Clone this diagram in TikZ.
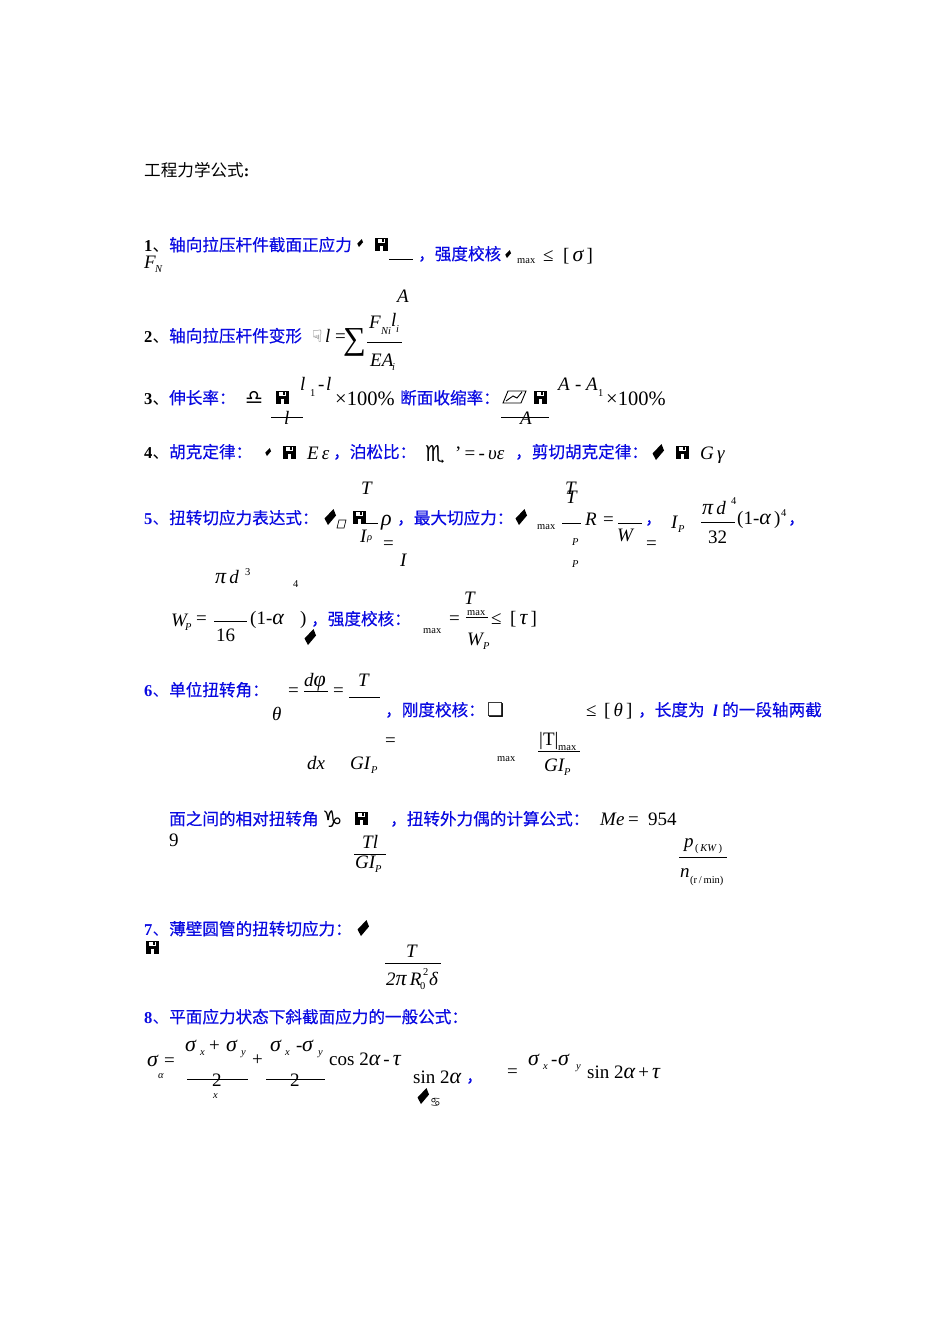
\documentclass[tikz,border=0pt]{standalone}
\usepackage{fontspec}
\setmainfont{Liberation Serif}
\newfontfamily\cjk{Noto Sans CJK SC}
\newfontfamily\cjkb[FakeBold=0.5]{Noto Sans CJK SC}
\newfontfamily\symf{DejaVu Sans}
\usetikzlibrary{positioning}
\definecolor{headblue}{RGB}{10,10,225}
\newcommand{\fs}[1]{\fontsize{#1}{#1}\selectfont}
\newcommand{\gk}[1]{{\fs{22}\itshape #1}}
\tikzset{
    every node/.style={inner sep=0pt,anchor=base west},
    head/.style={font=\fs{16.6}\cjkb,text=headblue},
    plainhead/.style={font=\fs{16.6}\cjk,text=black},
    num/.style={font=\fs{16.6}\bfseries,text=black},
    bnum/.style={font=\fs{16.6}\bfseries,text=headblue},
    rom/.style={font=\fs{19}},
    wide/.style={font=\fs{20.5}},
    ital/.style={font=\fs{19}\itshape},
    low/.style={font=\fs{10.5}},
    lowit/.style={font=\fs{10.5}\itshape},
    glyph/.style={font=\fs{17}\symf},
    fracline/.style={line width=0.8pt},
    floppy/.pic={
        \fill (-6.5,-6.5) rectangle (6.5,6.5);
        \fill[white] (-3.5,-5) rectangle (3.5,-1.5);
        \fill (1,-5) rectangle (2.5,-2);
        \fill[white] (-1,1.5) rectangle (1.5,6.5);
    },
    lozenge/.pic={
        \fill (-5.5,1.5) -- (3.5,-8) -- (6,-1.5) -- (-2,8) -- cycle;
    },
}
\begin{document}
\begin{tikzpicture}[x=1pt,y=-1pt]
    \useasboundingbox (0,0) rectangle (950,1344);

    \foreach \px/\py in {381/244,282/397,540/397,289/452,682/452,359/517,361/818,152/947}
        \pic at (\px,\py) {floppy};
    \foreach \px/\py/\ps in {360/243/.5,508/254/.5,268/452/.5,658/452/1,330/517/1,521/517/1,
                             310/637/1,363/928/1,423/1096/1}
        \pic[scale=\ps] at (\px,\py) {lozenge};
    \foreach \xa/\xb/\yy in {389/413/259,367/402/342,271/303/417,501/549/417,366/378/523,562/581/523,
                             618/642/523,701/735/522,214/247/621,466/488/617,304/328/691,349/380/697,
                             538/580/751,354/386/854,679/727/857,385/441/963,187/248/1079,266/325/1079}
        \draw[fracline] (\xa,\yy) -- (\xb,\yy);

    % title
    \node (title) [plainhead] at (144,176) {工程力学公式\textbf{\rmfamily:}};

    % 1
    \node (n1)  [num]   at (144,251) {1\cjk\mdseries 、};
    \node (h1)  [head]  at (169,251) {轴向拉压杆件截面正应力};
    \node (fn)  [ital]  at (144,268) {F};
    \node (fns) [lowit] at (155,272) {N};
    \node (h1b) [head]  at (418,260) {，强度校核};
    \node (mx1) [low]   at (517,263) {max};
    \node (le1) [rom]   at (543,261) {≤};
    \node (br1) [rom]   at (563,261) {[\,\gk{σ}\,]};
    \node (a1)  [ital]  at (397,302) {A};

    % 2
    \node (n2)  [num]   at (144,342) {2\cjk\mdseries 、};
    \node (h2)  [head]  at (169,342) {轴向拉压杆件变形};
    \node (dl)  [glyph,text=black!70] at (312,342) {☟};
    \node (l2)  [ital]  at (325,342) {l};
    \node (eq2) [rom]   at (335,342) {=};
    \node (sum) [rom,font=\fs{32}] at (343,349) {∑};
    \node (f2)  [ital]  at (369,328) {F};
    \node (f2s) [lowit] at (381,334) {Ni};
    \node (l2n) [ital]  at (391,326) {l};
    \node (l2s) [lowit] at (396,332) {i};
    \node (ea)  [ital]  at (370,366) {EA};
    \node (eas) [lowit] at (392,370) {i};

    % 3
    \node (n3)  [num]   at (144,404) {3\cjk\mdseries 、};
    \node (h3)  [head]  at (169,404) {伸长率：};
    \node (lib) [glyph,font=\fs{20}\symf] at (245,404) {♎};
    \node (l3a) [ital]  at (300,390) {l};
    \node (l31) [low]   at (310,396) {1};
    \node (l3m) [rom]   at (318,390) {-};
    \node (l3b) [ital]  at (326,390) {l};
    \node (l3c) [ital]  at (284,424) {l};
    \node (pc3) [wide]  at (335,405) {×100\%};
    \node (h3b) [head]  at (400,404) {断面收缩率：};
    \draw[line width=0.9pt] (508,391) -- (526,391) -- (521,403) -- (503,403) -- cycle
                            (506,401) -- (513,396) -- (517,398) -- (522,392);
    \node (a3a) [ital]  at (558,390) {A};
    \node (a3m) [rom]   at (575,390) {-};
    \node (a3b) [ital]  at (586,390) {A};
    \node (a31) [low]   at (598,396) {1};
    \node (pc3b) [wide] at (606,405) {×100\%};
    \node (a3c) [ital]  at (520,424) {A};

    % 4
    \node (n4)  [num]   at (144,458) {4\cjk\mdseries 、};
    \node (h4)  [head]  at (169,458) {胡克定律：};
    \node (ee)  [ital]  at (307,459) {E\,ε};
    \node (h4b) [head]  at (333,458) {，泊松比：};
    \node (sco) [glyph,font=\fs{22}\symf] at (425,461) {♏};
    \node (pr)  [rom]   at (455,459) {'\,=\,-\,\textit{υε}};
    \node (h4c) [head]  at (515,458) {，剪切胡克定律：};
    \node (gg)  [ital]  at (700,459) {G\,γ};

    % 5
    \node (n5)  [bnum]  at (144,524) {5\cjk\mdseries 、};
    \node (h5)  [head]  at (169,524) {扭转切应力表达式：};
    \draw[line width=0.7pt] (339,520) -- (346,520) -- (344,528) -- (337,528) -- cycle;
    \node (t5)  [ital]  at (361,494) {T};
    \node (i5)  [ital]  at (360,542) {I};
    \node (i5s) [lowit] at (367,540) {ρ};
    \node (eq5) [rom]   at (383,549) {=};
    \node (i5b) [ital]  at (400,566) {I};
    \node (rho) [ital,font=\fs{22}\itshape] at (381,525) {ρ};
    \node (h5b) [head]  at (397,524) {，最大切应力：};
    \node (mx5) [low]   at (537,529) {max};
    \node (t5a) [ital]  at (565,494) {T};
    \node (t5b) [ital]  at (566,503) {T};
    \node (p5a) [lowit] at (572,545) {P};
    \node (p5b) [lowit] at (572,567) {P};
    \node (r5)  [ital]  at (585,525) {R};
    \node (eq5b) [rom]  at (603,525) {=};
    \node (w5)  [ital]  at (617,541) {W};
    \node (cm5) [head]  at (645,524) {，};
    \node (eq5c) [rom]  at (646,549) {=};
    \node (ip)  [ital]  at (671,528) {I};
    \node (ips) [lowit] at (678,532) {P};
    \node (pd)  [ital]  at (702,514) {\gk{π}\,d};
    \node (pd4) [low]   at (731,504) {4};
    \node (n32) [rom]   at (708,543) {32};
    \node (al5) [rom]   at (737,524) {(1-\gk{α}\,)};
    \node (al4) [low]   at (781,516) {4};
    \node (cm5b) [head] at (788,524) {，};

    % Wp
    \node (pd3) [ital]  at (215,583) {\gk{π}\,d};
    \node (pd3s) [low]  at (245,575) {3};
    \node (four) [low]  at (293,587) {4};
    \node (wp)  [ital]  at (171,626) {W};
    \node (wps) [lowit] at (185,630) {P};
    \node (eq6) [rom]   at (196,624) {=};
    \node (n16) [rom]   at (216,641) {16};
    \node (al6) [rom]   at (250,624) {(1-\gk{α}};
    \node (cl6) [rom]   at (300,624) {)};
    \node (h6)  [head]  at (311,625) {，强度校核：};
    \node (mx6) [low]   at (423,633) {max};
    \node (eq6b) [rom]  at (449,624) {=};
    \node (t6)  [ital]  at (464,604) {T};
    \node (mx6b) [low]  at (467,615) {max};
    \node (le6) [rom]   at (491,624) {≤};
    \node (br6) [rom]   at (510,624) {[\,\gk{τ}\,]};
    \node (w6)  [ital]  at (467,645) {W};
    \node (w6s) [lowit] at (483,649) {P};

    % 6
    \node (n7)  [bnum]  at (144,696) {6\cjk\mdseries 、};
    \node (h7)  [head]  at (169,696) {单位扭转角：};
    \node (eq7) [rom]   at (288,696) {=};
    \node (df)  [ital]  at (304,686) {d\gk{φ}};
    \node (eq7b) [rom]  at (333,696) {=};
    \node (t7)  [ital]  at (358,686) {T};
    \node (th)  [ital]  at (272,720) {θ};
    \node (h7b) [head]  at (385,716) {，刚度校核：};
    \node (sq)  [glyph,font=\fs{19}\symf] at (487,716) {❏};
    \node (le7) [rom]   at (586,716) {≤};
    \node (br7) [rom]   at (604,716) {[\,\textit{θ}\,]};
    \node (h7c) [head]  at (638,716) {，长度为};
    \node (l7)  [bnum,font=\fs{16.6}\bfseries\itshape] at (713,716) {l};
    \node (h7d) [head]  at (722,716) {的一段轴两截};
    \node (eq7c) [rom]  at (385,746) {=};
    \node (mx7) [low]   at (497,761) {max};
    \node (dx)  [ital]  at (307,769) {dx};
    \node (gi)  [ital]  at (350,769) {GI};
    \node (gis) [lowit] at (371,773) {P};
    \node (abt) [rom]   at (539,745) {|T|};
    \node (abs) [low]   at (558,750) {max};
    \node (gi2) [ital]  at (544,771) {GI};
    \node (gi2s) [lowit] at (564,775) {P};

    % 6, second line
    \node (h8)  [head]  at (169,825) {面之间的相对扭转角};
    \node (cap) [glyph,font=\fs{23}\symf] at (322,827) {♑};
    \node (h8b) [head]  at (390,825) {，扭转外力偶的计算公式：};
    \node (me)  [ital]  at (600,825) {Me};
    \node (me2) [rom]   at (628,825) {=};
    \node (me3) [rom]   at (648,825) {954};
    \node (nine) [rom]  at (169,846) {9};
    \node (tl)  [ital]  at (362,848) {Tl};
    \node (gi3) [ital]  at (355,868) {GI};
    \node (gi3s) [lowit] at (375,872) {P};
    \node (pk)  [ital]  at (684,847) {p};
    \node (pks) [low]   at (695,851) {(\,\textit{KW}\,)};
    \node (nr)  [ital]  at (680,877) {n};
    \node (nrs) [low]   at (690,883) {(r\,/\,min)};

    % 7
    \node (n9)  [bnum]  at (144,935) {7\cjk\mdseries 、};
    \node (h9)  [head]  at (169,935) {薄壁圆管的扭转切应力：};
    \node (t9)  [ital]  at (406,957) {T};
    \node (r9)  [ital]  at (386,985) {2\gk{π}\,R};
    \node (r9u) [low]   at (423,975) {2};
    \node (r9d) [low]   at (420,989) {0};
    \node (de)  [ital]  at (429,985) {δ};

    % 8
    \node (n10) [num,text=headblue] at (144,1023) {8\cjk\mdseries 、};
    \node (h10) [head]  at (169,1023) {平面应力状态下斜截面应力的一般公式：};
    \node (sg)  [ital]  at (147,1066) {\gk{σ}};
    \node (eqa) [rom]   at (164,1066) {=};
    \node (sga) [lowit] at (158,1078) {α};
    \node (s1)  [ital]  at (185,1051) {\gk{σ}};
    \node (s1x) [lowit] at (200,1055) {x};
    \node (pl1) [rom]   at (209,1051) {+};
    \node (s2)  [ital]  at (226,1051) {\gk{σ}};
    \node (s2y) [lowit] at (241,1055) {y};
    \node (tw1) [rom]   at (212,1086) {2};
    \node (tx)  [lowit] at (213,1098) {x};
    \node (pl2) [rom]   at (252,1065) {+};
    \node (s3)  [ital]  at (270,1051) {\gk{σ}};
    \node (s3x) [lowit] at (285,1055) {x};
    \node (mi3) [rom]   at (296,1051) {-};
    \node (s4)  [ital]  at (302,1051) {\gk{σ}};
    \node (s4y) [lowit] at (318,1055) {y};
    \node (tw2) [rom]   at (290,1086) {2};
    \node (cs)  [rom]   at (329,1065) {cos 2\gk{α}\,-\,\gk{τ}};
    \node (sn)  [rom]   at (413,1083) {sin 2\gk{α}};
    \node (cm10) [head] at (466,1082) {，};
    \node (can) [glyph,font=\fs{12}\symf] at (430,1106) {♋};
    \node (eqb) [rom]   at (507,1077) {=};
    \node (s5)  [ital]  at (528,1065) {\gk{σ}};
    \node (s5x) [lowit] at (543,1069) {x};
    \node (mi5) [rom]   at (551,1065) {-};
    \node (s6)  [ital]  at (558,1065) {\gk{σ}};
    \node (s6y) [lowit] at (576,1069) {y};
    \node (sn2) [rom]   at (587,1078) {sin 2\gk{α}\,+\,\gk{τ}};
\end{tikzpicture}
\end{document}
